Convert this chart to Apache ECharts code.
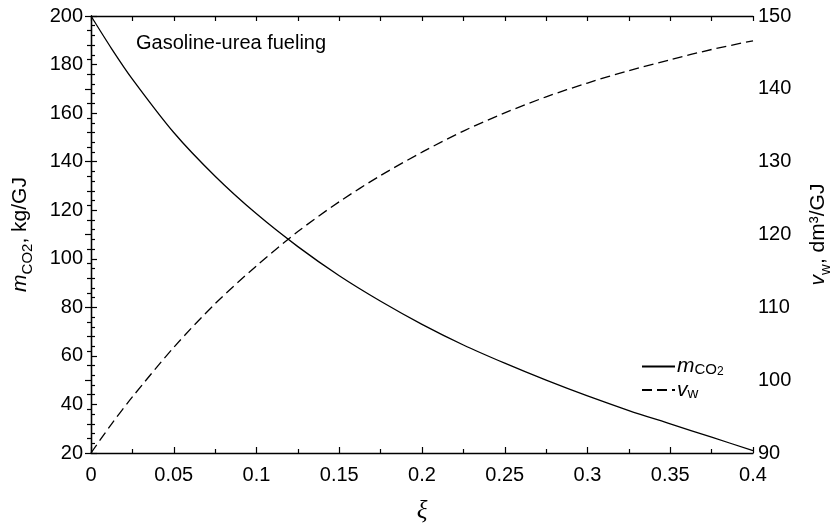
<!DOCTYPE html>
<html>
<head>
<meta charset="utf-8">
<script src="https://cdn.jsdelivr.net/npm/echarts@6/dist/echarts.min.js"></script>
<style>
  html, body { margin: 0; padding: 0; background: #fff; }
  #chart { width: 836px; height: 527px; }
</style>
</head>
<body>
<div id="chart"></div>
<script>
// ξ values (x axis)
const xi = [0, 0.0125, 0.025, 0.05, 0.075, 0.1, 0.125, 0.15, 0.175, 0.2, 0.225, 0.25, 0.275, 0.3, 0.325, 0.35, 0.375, 0.4]
// m_CO2, kg/GJ (left axis)
const mCO2 = [200, 186.5, 174, 152, 134, 118.5, 105, 93, 82.5, 73, 64.5, 57, 50, 43.5, 37.5, 32, 26.5, 21]
// v_w, dm3/GJ (right axis)
const vW = [90, 94, 97.7, 104.5, 110.5, 115.7, 120.4, 124.5, 128.1, 131.3, 134.2, 136.7, 138.9, 140.8, 142.5, 144.0, 145.4, 146.6]

const seriesNames = ['mco2', 'vw']
const titleText = 'Gasoline-urea fueling'

const FONT = 'Liberation Sans'
const black = '#000'
const axisLine = { show: true, lineStyle: { color: black, width: 1.3 } }
const tick = (len) => ({ show: true, inside: true, length: len, lineStyle: { color: black, width: 1.2 } })
const minor = (n) => ({ show: true, splitNumber: n, length: 4, lineStyle: { color: black, width: 1.2 } })
const label = (margin) => ({ fontFamily: FONT, fontSize: 20, color: black, margin: margin })

// rich text for subscripts (axis names)
const rich = {
  i: { fontFamily: FONT, fontStyle: 'italic', fontSize: 21, lineHeight: 30, color: black },
  n: { fontFamily: FONT, fontSize: 21, lineHeight: 30, color: black },
  s: { fontFamily: FONT, fontSize: 15, lineHeight: 15, verticalAlign: 'bottom', color: black }
}
// legend rich text, tighter lines
const legendRich = {
  i: { fontFamily: FONT, fontStyle: 'italic', fontSize: 21, lineHeight: 22, color: black },
  s: { fontFamily: FONT, fontSize: 15, lineHeight: 8, verticalAlign: 'bottom', color: black },
  ss: { fontFamily: FONT, fontSize: 12, lineHeight: 2, verticalAlign: 'bottom', color: black }
}

const chart = echarts.init(document.getElementById('chart'))

const option = {
  animation: false,
  backgroundColor: '#fff',
  title: {
    text: titleText,
    left: 136,
    top: 33,
    padding: 0,
    textStyle: { fontFamily: FONT, fontSize: 20, fontWeight: 'normal', color: black }
  },
  grid: { left: 91, right: 83, top: 16, bottom: 74, containLabel: false, outerBoundsMode: 'none' },
  legend: {
    orient: 'vertical',
    left: 641,
    top: 356,
    padding: 0,
    itemWidth: 33,
    itemHeight: 14,
    itemGap: 2,
    data: seriesNames,
    itemStyle: { opacity: 0 },
    formatter: (name) => name === 'mco2' ? '{i|m}{s|CO}{ss|2}' : '{i|v}{s|w}',
    textStyle: { padding: [0, 0, 0, -3], rich: legendRich }
  },
  xAxis: [
    {
      type: 'value',
      position: 'bottom',
      min: 0, max: 0.4, interval: 0.05,
      axisLine: axisLine,
      axisTick: tick(6),
      minorTick: minor(2),
      splitLine: { show: false },
      axisLabel: label(12),
      name: 'ξ',
      nameLocation: 'middle',
      nameGap: 46,
      nameTextStyle: { fontFamily: 'Liberation Serif', fontStyle: 'italic', fontSize: 25, color: black }
    },
    {
      type: 'value',
      position: 'top',
      min: 0, max: 0.4, interval: 0.025,
      axisLine: axisLine,
      axisTick: tick(5),
      axisLabel: { show: false },
      splitLine: { show: false }
    }
  ],
  yAxis: [
    {
      type: 'value',
      position: 'left',
      min: 20, max: 200, interval: 20,
      axisLine: axisLine,
      axisTick: tick(6),
      minorTick: minor(5),
      splitLine: { show: false },
      axisLabel: label(8),
      name: '{i|m}{s|CO2}{n|, kg/GJ}',
      nameLocation: 'middle',
      nameRotate: 90,
      nameGap: 56,
      nameTextStyle: { rich: rich }
    },
    {
      type: 'value',
      position: 'right',
      min: 90, max: 150, interval: 10,
      axisLine: axisLine,
      axisTick: tick(6),
      minorTick: minor(5),
      splitLine: { show: false },
      axisLabel: label(5),
      name: '{i|v}{s|w}{n|, dm³/GJ}',
      nameLocation: 'middle',
      nameRotate: 90,
      nameGap: 50,
      nameTextStyle: { rich: rich }
    }
  ],
  series: [
    {
      name: 'mco2',
      type: 'line',
      xAxisIndex: 0,
      yAxisIndex: 0,
      smooth: 0.3,
      symbol: 'none',
      lineStyle: { color: black, width: 1.3 },
      itemStyle: { color: black },
      data: xi.map((x, i) => [x, mCO2[i]])
    },
    {
      name: 'vw',
      type: 'line',
      xAxisIndex: 0,
      yAxisIndex: 1,
      smooth: 0.3,
      symbol: 'none',
      lineStyle: { color: black, width: 1.3, type: [10, 5] },
      itemStyle: { color: black },
      data: xi.map((x, i) => [x, vW[i]])
    }
  ]
}

chart.setOption(option)
</script>
</body>
</html>
